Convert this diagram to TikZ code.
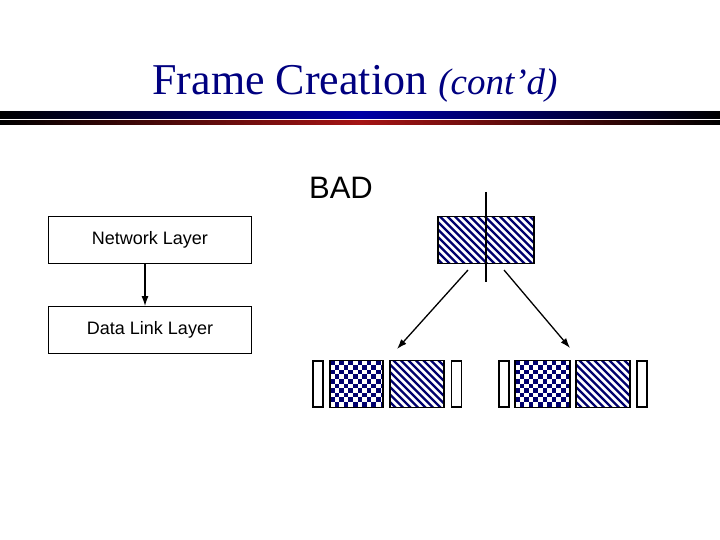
\documentclass[tikz,border=0pt]{standalone}
\usepackage{fontspec}
\setmainfont{Liberation Serif}
\setsansfont{Liberation Sans}
\usetikzlibrary{arrows.meta, positioning}
\definecolor{titleblue}{RGB}{0,0,128}
\definecolor{barblue}{RGB}{0,0,165}
\definecolor{barred}{RGB}{165,20,20}
\definecolor{hatchblue}{RGB}{0,0,110}
\newcommand{\hatchfill}[1]{%
  \begin{scope}
    \clip (#1.north west) rectangle (#1.south east);
    \foreach \d in {-82.5,-75,...,82.5}
      \draw[hatchblue, line width=2.2pt] ([shift={(\d-60,-60)}]#1.center) -- ([shift={(\d+60,60)}]#1.center);
  \end{scope}
  \draw[line width=1.6pt] (#1.north west) rectangle (#1.south east);}
\newcommand{\chkfill}[1]{%
  \begin{scope}
    \clip (#1.north west) rectangle (#1.south east);
    \foreach \i in {0,...,6}
      \foreach \j in {0,...,6} {
        \fill[hatchblue] ([shift={({9.2*\i},{9.2*\j})}]#1.north west) rectangle +(4.6,4.6);
        \fill[hatchblue] ([shift={({9.2*\i+4.6},{9.2*\j+4.6})}]#1.north west) rectangle +(4.6,4.6);
      }
  \end{scope}
  \draw[line width=1.6pt] (#1.north west) rectangle (#1.south east);}
\tikzset{
  lay/.style={rectangle, draw=black, line width=1.2pt, minimum width=203pt, minimum height=47pt,
    inner sep=0pt, font=\sffamily\fontsize{18}{20}\selectfont},
  cell/.style={rectangle, fill=white, inner sep=0pt, outer sep=0pt, minimum height=47pt},
  gap/.style={rectangle, draw=black, line width=1.6pt, fill=white, inner sep=0pt,
    minimum width=10pt, minimum height=46pt},
  arrow/.style={-{Latex[length=10pt, width=7pt]}, line width=1.3pt},
  cut/.style={line width=2.6pt}
}
\begin{document}
\begin{tikzpicture}[x=1pt, y=-1pt, node distance=42pt]
  \useasboundingbox (0,0) rectangle (720,540);
  \node[text=titleblue, font=\fontsize{44}{48}\selectfont] (title) at (355,84)
    {Frame Creation {\itshape\fontsize{37}{40}\selectfont (cont'd)}};
  \shade[left color=black, right color=black, middle color=barblue] (0,112) rectangle (720,119);
  \shade[left color=black, right color=black, middle color=barred] (0,121) rectangle (720,125);

  \node[font=\sffamily\fontsize{31}{34}\selectfont] (bad) at (341,188) {BAD};

  \node[lay] (net) at (150,240) {Network Layer};
  \node[lay, below=of net] (dll) {Data Link Layer};
  \draw[arrow] ([xshift=-5pt]net.south) -- ([xshift=-5pt]dll.north);

  \node[cell, minimum width=96pt] (pkt) at (486,240) {};
  \hatchfill{pkt}
  \coordinate (cuttop) at (486,192);
  \coordinate (cutbot) at (486,282);
  \draw[cut] (cuttop) -- (cutbot);

  \node[gap] (g1) at (318,384) {};
  \node[cell, minimum width=53pt] (c1) at (356.5,384) {};
  \chkfill{c1}
  \node[cell, minimum width=54pt] (h1) at (417,384) {};
  \hatchfill{h1}
  \node[gap] (g2) at (456.5,384) {};
  \node[gap] (g3) at (504,384) {};
  \node[cell, minimum width=55pt] (c2) at (542.5,384) {};
  \chkfill{c2}
  \node[cell, minimum width=54pt] (h2) at (603,384) {};
  \hatchfill{h2}
  \node[gap] (g4) at (642,384) {};

  \coordinate (lfrom) at (468,270);
  \coordinate (lto) at (397,349);
  \coordinate (rfrom) at (504,270);
  \coordinate (rto) at (570,348);
  \draw[arrow] (lfrom) -- (lto);
  \draw[arrow] (rfrom) -- (rto);
\end{tikzpicture}
\end{document}
